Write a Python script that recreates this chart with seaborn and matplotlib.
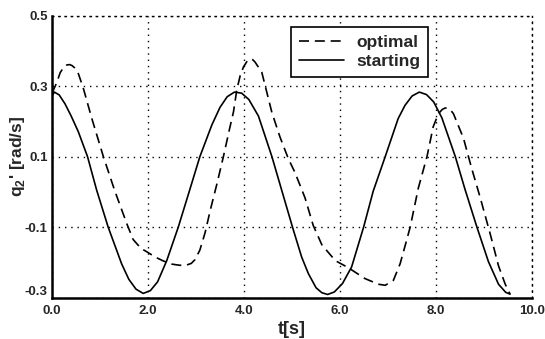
import pandas as pd
import seaborn as sns
import matplotlib
matplotlib.use("Agg")
import matplotlib.pyplot as plt

# values
t_start = [0.00, 0.05, 0.15, 0.27, 0.40, 0.55, 0.74, 0.93, 1.17, 1.45, 1.60, 1.75,
           1.90, 2.05, 2.20, 2.39, 2.63, 2.84, 3.08, 3.33, 3.50, 3.65, 3.80, 3.95,
           4.10, 4.30, 4.58, 4.79, 5.02, 5.20, 5.34, 5.50, 5.62, 5.74, 5.88, 6.05,
           6.24, 6.49, 6.69, 6.94, 7.21, 7.35, 7.50, 7.65, 7.80, 7.95, 8.12, 8.40,
           8.60, 8.85, 9.09, 9.30, 9.45, 9.54]
q_start = [0.272, 0.283, 0.275, 0.250, 0.215, 0.170, 0.100, 0.005, -0.100, -0.204, -0.248, -0.276,
           -0.288, -0.280, -0.255, -0.195, -0.100, -0.007, 0.100, 0.190, 0.240, 0.270, 0.283, 0.280,
           0.262, 0.215, 0.100, 0.002, -0.105, -0.185, -0.232, -0.272, -0.286, -0.291, -0.284, -0.260,
           -0.213, -0.100, 0.002, 0.100, 0.208, 0.245, 0.272, 0.283, 0.276, 0.255, 0.210, 0.100,
           0.008, -0.100, -0.198, -0.262, -0.285, -0.290]

t_opt = [0.00, 0.10, 0.17, 0.25, 0.31, 0.37, 0.42, 0.47, 0.55, 0.65, 0.83, 1.07, 1.31, 1.56,
         1.69, 1.85, 2.00, 2.15, 2.32, 2.50, 2.65, 2.77, 2.90, 2.98, 3.08, 3.19,
         3.30, 3.43, 3.57, 3.70, 3.78, 3.85, 3.92, 3.99, 4.07, 4.13, 4.18, 4.23, 4.37,
         4.58, 4.75, 4.92, 5.06, 5.27, 5.44, 5.62, 5.90, 6.17, 6.52, 6.80, 6.94,
         7.11, 7.25, 7.35, 7.46, 7.63, 7.81, 7.94, 8.05, 8.13, 8.19, 8.25, 8.30, 8.36, 8.57,
         8.74, 8.92, 9.13, 9.30, 9.44, 9.54]
q_opt = [0.280, 0.310, 0.338, 0.355, 0.360, 0.361, 0.358, 0.352, 0.335, 0.295, 0.208, 0.100, 0.002, -0.091,
         -0.135, -0.160, -0.172, -0.185, -0.196, -0.205, -0.208, -0.209, -0.203, -0.192, -0.165, -0.115,
         -0.050, 0.020, 0.100, 0.180, 0.227, 0.290, 0.330, 0.355, 0.372, 0.377, 0.375, 0.368, 0.339,
         0.225, 0.155, 0.095, 0.055, -0.017, -0.095, -0.150, -0.195, -0.215, -0.246, -0.262, -0.265,
         -0.251, -0.204, -0.155, -0.100, 0.011, 0.100, 0.185, 0.222, 0.234, 0.238, 0.237, 0.232, 0.222, 0.152,
         0.067, -0.017, -0.121, -0.210, -0.262, -0.290]

x_ticks = [0.0, 2.0, 4.0, 6.0, 8.0, 10.0]
y_ticks = [-0.3, -0.1, 0.1, 0.3, 0.5]

df = pd.concat([
    pd.DataFrame({"t": t_opt, "q": q_opt, "curve": "optimal"}),
    pd.DataFrame({"t": t_start, "q": q_start, "curve": "starting"}),
], ignore_index=True)

sns.set_style("white")
plt.rcParams["font.family"] = ["Liberation Sans", "DejaVu Sans"]
plt.rcParams["font.weight"] = "bold"
plt.rcParams["mathtext.fontset"] = "custom"
plt.rcParams["mathtext.bf"] = "Liberation Sans:bold"
plt.rcParams["mathtext.rm"] = "Liberation Sans:bold"

fig = plt.figure(figsize=(5.45, 3.39), dpi=100)
ax = fig.add_axes([0.0954, 0.122, 0.881, 0.832])

sns.lineplot(data=df, x="t", y="q", hue="curve", style="curve",
             hue_order=["optimal", "starting"], style_order=["optimal", "starting"],
             palette={"optimal": "black", "starting": "black"},
             dashes={"optimal": (6, 3.5), "starting": ""},
             sort=False, estimator=None, linewidth=1.2, ax=ax)

ax.set_xlim(0, 10)
ax.set_ylim(-0.3, 0.5)
ax.set_xticks(x_ticks)
ax.set_xticklabels([f"{v:.1f}" for v in x_ticks])
ax.set_yticks(y_ticks)
ax.set_yticklabels([f"{v:.1f}" for v in y_ticks])
ax.tick_params(axis="x", length=0, labelsize=9.5, pad=5)
ax.tick_params(axis="y", length=0, labelsize=9.5, pad=3)
for lab in ax.get_xticklabels() + ax.get_yticklabels():
    lab.set_fontweight("bold")
ax.get_yticklabels()[0].set_verticalalignment("bottom")

ax.grid(True, color="black", linestyle=(0, (1, 3.5)), linewidth=1.0)
for side in ["left", "bottom"]:
    ax.spines[side].set_color("black")
    ax.spines[side].set_linewidth(1.8)
for side in ["top", "right"]:
    ax.spines[side].set_color("black")
    ax.spines[side].set_linestyle((0, (1, 3.5)))
    ax.spines[side].set_linewidth(1.0)

ax.set_xlabel("t[s]", fontsize=13, fontweight="bold", labelpad=3)
ax.set_ylabel(r"q$_\mathbf{2}$' [rad/s]", fontsize=12.5, fontweight="bold")
ax.yaxis.set_label_coords(-0.053, 0.5)

leg = ax.legend(loc="upper right", bbox_to_anchor=(0.783, 0.96), frameon=True,
                fancybox=False, edgecolor="black", framealpha=1, fontsize=12.5,
                handlelength=2.6, handletextpad=0.7, borderpad=0.45, labelspacing=0.25,
                borderaxespad=0)
leg.get_frame().set_linewidth(1.2)
for txt in leg.get_texts():
    txt.set_fontweight("bold")
leg.set_title(None)

fig.savefig("out.png", dpi=100)
